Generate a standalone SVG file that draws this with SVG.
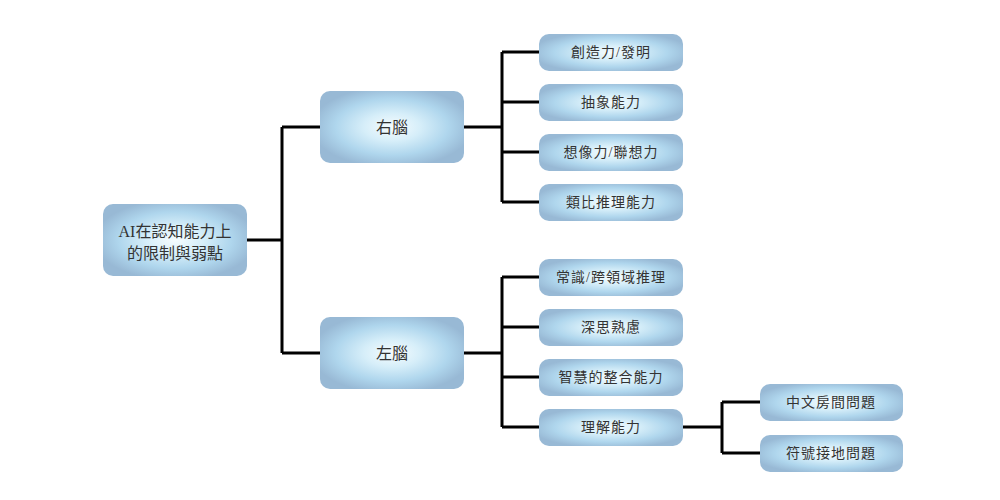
<svg xmlns="http://www.w3.org/2000/svg" width="1000" height="500" viewBox="0 0 1000 500">
<defs>
<radialGradient id="g" cx="0.5" cy="0.5" r="0.56">
<stop offset="0" stop-color="#f6fcfe"/>
<stop offset="0.35" stop-color="#d6eef9"/>
<stop offset="0.7" stop-color="#afd6ed"/>
<stop offset="1" stop-color="#98b9d5"/>
</radialGradient>
<style>
.n{fill:url(#g);}
.t{font-family:"Liberation Serif","Noto Sans CJK TC",serif;fill:#333;text-anchor:middle;dominant-baseline:central;}
.s{font-size:14px;letter-spacing:1px;}
.m{font-size:16px;}
.c{fill:none;stroke:#000;stroke-width:3;}
</style>
</defs>
<rect width="1000" height="500" fill="#fff"/>
<g id="connectors">
<path class="c" d="M247 240H282M282 127V353M282 127H320M282 353H320"/>
<path class="c" d="M464 127H502M502 52V202M502 52H539M502 102H539M502 152H539M502 202H539"/>
<path class="c" d="M464 353H502M502 277V427M502 277H539M502 327H539M502 377H539M502 427H539"/>
<path class="c" d="M683 427H722M722 402V453M722 402H760M722 453H760"/>
</g>
<g id="root"><rect class="n" x="103" y="204" width="144" height="72" rx="10"/><text class="t m" x="175" y="231">AI在認知能力上</text><text class="t m" x="175" y="253">的限制與弱點</text></g>
<g id="right"><rect class="n" x="320" y="91" width="144" height="72" rx="10"/><text class="t m" x="392" y="127">右腦</text></g>
<g id="left"><rect class="n" x="320" y="317" width="144" height="72" rx="10"/><text class="t m" x="392" y="353">左腦</text></g>
<g id="r1"><rect class="n" x="539" y="34" width="144" height="37" rx="10"/><text class="t s" x="611" y="52">創造力/發明</text></g>
<g id="r2"><rect class="n" x="539" y="84" width="144" height="37" rx="10"/><text class="t s" x="611" y="102">抽象能力</text></g>
<g id="r3"><rect class="n" x="539" y="134" width="144" height="37" rx="10"/><text class="t s" x="611" y="152">想像力/聯想力</text></g>
<g id="r4"><rect class="n" x="539" y="184" width="144" height="37" rx="10"/><text class="t s" x="611" y="202">類比推理能力</text></g>
<g id="l1"><rect class="n" x="539" y="259" width="144" height="37" rx="10"/><text class="t s" x="611" y="277">常識/跨領域推理</text></g>
<g id="l2"><rect class="n" x="539" y="309" width="144" height="37" rx="10"/><text class="t s" x="611" y="327">深思熟慮</text></g>
<g id="l3"><rect class="n" x="539" y="359" width="144" height="37" rx="10"/><text class="t s" x="611" y="377">智慧的整合能力</text></g>
<g id="l4"><rect class="n" x="539" y="409" width="144" height="37" rx="10"/><text class="t s" x="611" y="427">理解能力</text></g>
<g id="u1"><rect class="n" x="760" y="384" width="143" height="37" rx="10"/><text class="t s" x="831" y="402">中文房間問題</text></g>
<g id="u2"><rect class="n" x="760" y="435" width="143" height="37" rx="10"/><text class="t s" x="831" y="453">符號接地問題</text></g>
</svg>
